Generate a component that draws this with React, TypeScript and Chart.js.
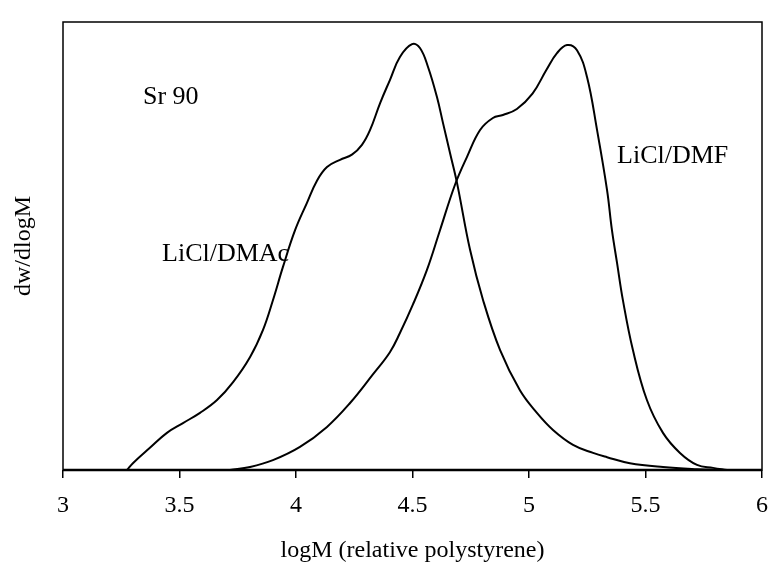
import React, { useEffect, useRef } from "react";
import { Chart, registerables } from "chart.js";

Chart.register(...registerables);

// LiCl/DMAc curve
const dmacLogM = [3.275, 3.3, 3.373, 3.446, 3.515, 3.588, 3.661, 3.73, 3.803, 3.858, 3.901, 3.944, 3.996, 4.047, 4.09, 4.133, 4.189, 4.24, 4.283, 4.318, 4.361, 4.403, 4.446, 4.498, 4.532, 4.567, 4.605, 4.631, 4.661, 4.691, 4.747, 4.803, 4.876, 4.961, 5.034, 5.103, 5.189, 5.275, 5.335, 5.433, 5.575, 5.721, 5.833];
const dmacW = [0, 0.016, 0.052, 0.087, 0.11, 0.134, 0.164, 0.206, 0.265, 0.328, 0.398, 0.476, 0.562, 0.626, 0.678, 0.71, 0.727, 0.739, 0.762, 0.797, 0.86, 0.914, 0.968, 0.998, 0.989, 0.944, 0.874, 0.813, 0.743, 0.673, 0.516, 0.398, 0.281, 0.187, 0.134, 0.094, 0.059, 0.04, 0.03, 0.016, 0.007, 0.002, 0];

// LiCl/DMF curve
const dmfLogM = [3.717, 3.803, 3.901, 4.017, 4.133, 4.232, 4.33, 4.403, 4.446, 4.502, 4.562, 4.618, 4.682, 4.734, 4.79, 4.845, 4.888, 4.948, 5.015, 5.075, 5.12, 5.163, 5.206, 5.249, 5.292, 5.335, 5.356, 5.378, 5.403, 5.446, 5.506, 5.575, 5.648, 5.721, 5.79, 5.85];
const dmfW = [0, 0.007, 0.023, 0.054, 0.101, 0.157, 0.224, 0.276, 0.321, 0.388, 0.469, 0.562, 0.668, 0.734, 0.797, 0.825, 0.832, 0.846, 0.882, 0.938, 0.977, 0.996, 0.984, 0.921, 0.797, 0.656, 0.562, 0.485, 0.398, 0.281, 0.164, 0.087, 0.04, 0.012, 0.005, 0];

const xTicks = [3, 3.5, 4, 4.5, 5, 5.5, 6];

const annotations = [
  { text: "Sr 90", x: 3.343, y: 0.858 },
  { text: "LiCl/DMAc", x: 3.425, y: 0.49 },
  { text: "LiCl/DMF", x: 5.378, y: 0.72 },
];

const FONT = '"Liberation Serif", "Times New Roman", serif';

export default function App() {
  const ref = useRef<HTMLCanvasElement>(null);
  useEffect(() => {
    if (!ref.current) return;
    const framePlugin = {
      id: "frame",
      afterDraw(chart: any) {
        const { ctx, chartArea } = chart;
        ctx.save();
        ctx.strokeStyle = "#000";
        ctx.lineWidth = 1.5;
        ctx.strokeRect(chartArea.left, chartArea.top, chartArea.right - chartArea.left, chartArea.bottom - chartArea.top);
        ctx.lineWidth = 2.5;
        ctx.beginPath();
        ctx.moveTo(chartArea.left, chartArea.bottom);
        ctx.lineTo(chartArea.right, chartArea.bottom);
        ctx.stroke();
        ctx.fillStyle = "#000";
        ctx.font = `26px ${FONT}`;
        ctx.textBaseline = "alphabetic";
        ctx.textAlign = "left";
        const xs = chart.scales.x;
        const ys = chart.scales.y;
        annotations.forEach((a) => {
          ctx.fillText(a.text, xs.getPixelForValue(a.x), ys.getPixelForValue(a.y));
        });
        ctx.restore();
      },
    };
    const chart = new Chart(ref.current, {
      type: "line",
      data: {
        datasets: [
          {
            label: "LiCl/DMAc",
            data: dmacLogM.map((x, i) => ({ x, y: dmacW[i] })),
            borderColor: "#000",
            borderWidth: 2,
            pointRadius: 0,
            tension: 0.4,
            fill: false,
          },
          {
            label: "LiCl/DMF",
            data: dmfLogM.map((x, i) => ({ x, y: dmfW[i] })),
            borderColor: "#000",
            borderWidth: 2,
            pointRadius: 0,
            tension: 0.4,
            fill: false,
          },
        ],
      },
      options: {
        animation: false,
        responsive: false,
        layout: { padding: { left: 0, right: 7, top: 22, bottom: 0 } },
        plugins: { legend: { display: false }, tooltip: { enabled: false } },
        scales: {
          x: {
            type: "linear",
            min: 3,
            max: 6,
            afterFit: (s: any) => {
              s.height = 93;
              s.paddingLeft = 0;
              s.paddingRight = 0;
            },
            afterBuildTicks: (s: any) => {
              s.ticks = xTicks.map((v) => ({ value: v }));
            },
            ticks: {
              color: "#000",
              padding: 13,
              font: { family: FONT, size: 24 },
              maxRotation: 0,
              callback: (v: any) => String(v),
            },
            grid: { drawOnChartArea: false, tickLength: 8, color: "#000", lineWidth: 1.5 },
            border: { display: false },
            title: {
              display: true,
              text: "logM (relative polystyrene)",
              color: "#000",
              font: { family: FONT, size: 24, lineHeight: 1 },
              padding: { top: 0, bottom: 0 },
            },
          },
          y: {
            type: "linear",
            min: 0,
            max: 1.05,
            afterFit: (s: any) => {
              s.width = 63;
            },
            ticks: { display: false },
            grid: { display: false },
            border: { display: false },
            title: {
              display: true,
              text: "dw/dlogM",
              color: "#000",
              font: { family: FONT, size: 24, lineHeight: 1 },
              padding: { top: 12, bottom: 0 },
            },
          },
        },
      },
      plugins: [framePlugin],
    });
    return () => chart.destroy();
  }, []);
  return (
    <div style={{ position: "fixed", left: 0, top: 0, width: 769, height: 563, background: "#fff" }}>
      <canvas ref={ref} width={769} height={563} />
    </div>
  );
}
